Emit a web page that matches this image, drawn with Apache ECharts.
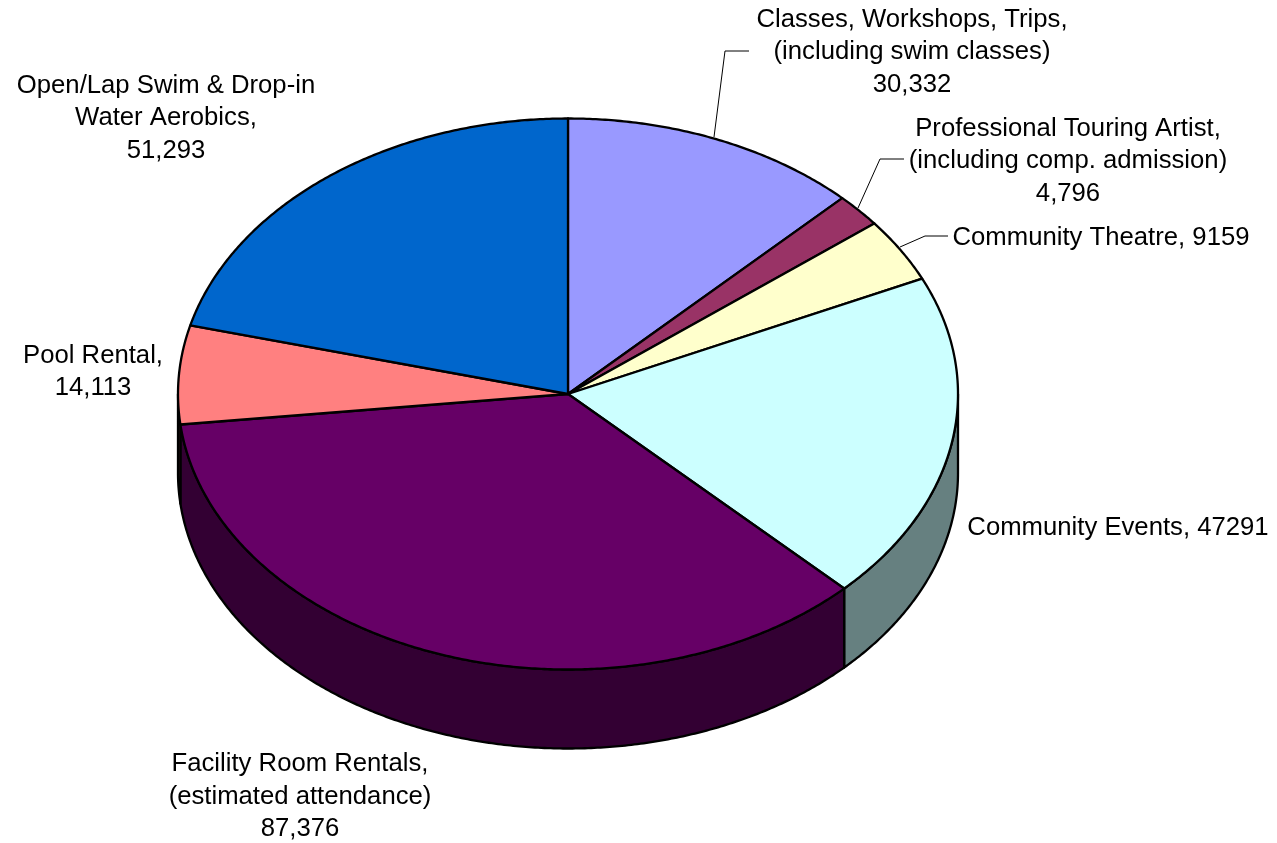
<!DOCTYPE html>
<html>
<head>
<meta charset="utf-8">
<style>html,body{margin:0;padding:0;background:#fff}#c{width:1277px;height:843px}</style>
<script src="https://cdn.jsdelivr.net/npm/echarts@6/dist/echarts.min.js"></script>
</head>
<body>
<div id="c"></div>
<script>
// Data
const categories = [
  'Classes, Workshops, Trips,\n(including swim classes)\n30,332',
  'Professional Touring Artist,\n(including comp. admission)\n4,796',
  'Community Theatre, 9159',
  'Community Events, 47291',
  'Facility Room Rentals,\n(estimated attendance)\n87,376',
  'Pool Rental,\n14,113',
  'Open/Lap Swim & Drop-in\nWater Aerobics,\n51,293'
];
const values = [30332, 4796, 9159, 47291, 87376, 14113, 51293];

// Styling and layout
const topColors  = ['#9999FF', '#993366', '#FFFFCC', '#CCFFFF', '#660066', '#FF8080', '#0066CC'];
const sideColors = ['#4D4D80', '#4D1A33', '#808066', '#668080', '#330033', '#804040', '#003366'];
const labelCenters = [[912, 52], [1068, 161], [1101, 237.5], [1118, 528], [300, 796.5], [93, 372], [166, 118]];
const leaderLines = [
  [[714, 137], [725, 51], [749, 51]],
  [[858, 208], [880, 159], [904, 159]],
  [[900, 247], [925, 236], [948, 236]],
  null, null, null, null
];
const CX = 568, CY = 394, RX = 390, RY = 275.5, DEPTH = 79;
const FONT = '"Liberation Sans", Arial, sans-serif';

const total = values.reduce((a, b) => a + b, 0);
const starts = [];
values.reduce((acc, v, i) => { starts[i] = acc; return acc + v; }, 0);

// angle measured clockwise from 12 o'clock, on the un-tilted disc
function rim(a, dy) {
  return [CX + RX * Math.sin(a), CY - RY * Math.cos(a) + (dy || 0)];
}
function arc(a0, a1, dy) {
  const n = Math.max(2, Math.ceil(Math.abs(a1 - a0) / 0.008));
  const pts = [];
  for (let i = 0; i <= n; i++) pts.push(rim(a0 + (a1 - a0) * i / n, dy));
  return pts;
}
function angles(api) {
  const i = api.value(0);
  return [starts[i] / total * 2 * Math.PI, (starts[i] + api.value(1)) / total * 2 * Math.PI];
}
const seriesData = values.map((v, i) => [i, v]);
const strokeStyle = { stroke: '#000', lineWidth: 2.3, lineJoin: 'round' };

const option = {
  animation: false,
  tooltip: { show: false },
  series: [
    { // side wall: only the front half of the disc is visible
      type: 'custom', coordinateSystem: 'none', silent: true, z: 1,
      data: seriesData,
      renderItem(params, api) {
        const [a0, a1] = angles(api);
        const s = Math.max(a0, Math.PI / 2), e = Math.min(a1, 1.5 * Math.PI);
        if (e <= s) return { type: 'group', children: [] };
        const points = arc(s, e, 0).concat(arc(e, s, DEPTH));
        return { type: 'polygon', shape: { points },
          style: Object.assign({ fill: sideColors[api.value(0)] }, strokeStyle) };
      }
    },
    { // top face
      type: 'custom', coordinateSystem: 'none', silent: true, z: 2,
      data: seriesData,
      renderItem(params, api) {
        const [a0, a1] = angles(api);
        const points = [[CX, CY]].concat(arc(a0, a1, 0));
        return { type: 'polygon', shape: { points },
          style: Object.assign({ fill: topColors[api.value(0)] }, strokeStyle) };
      }
    },
    { // labels and leader lines
      type: 'custom', coordinateSystem: 'none', silent: true, z: 3,
      data: seriesData,
      renderItem(params, api) {
        const i = api.value(0);
        const children = [{
          type: 'text',
          style: {
            text: categories[i], x: labelCenters[i][0], y: labelCenters[i][1],
            align: 'center', verticalAlign: 'middle', textAlign: 'center', textVerticalAlign: 'middle',
            font: '25.7px ' + FONT, lineHeight: 32.5, fill: '#000'
          }
        }];
        if (leaderLines[i]) children.push({
          type: 'polyline', shape: { points: leaderLines[i] },
          style: { stroke: '#000', lineWidth: 1, fill: 'none' }
        });
        return { type: 'group', children };
      }
    }
  ]
};
const chart = echarts.init(document.getElementById('c'), null, { renderer: 'canvas' });
chart.setOption(option);
</script>
</body>
</html>
